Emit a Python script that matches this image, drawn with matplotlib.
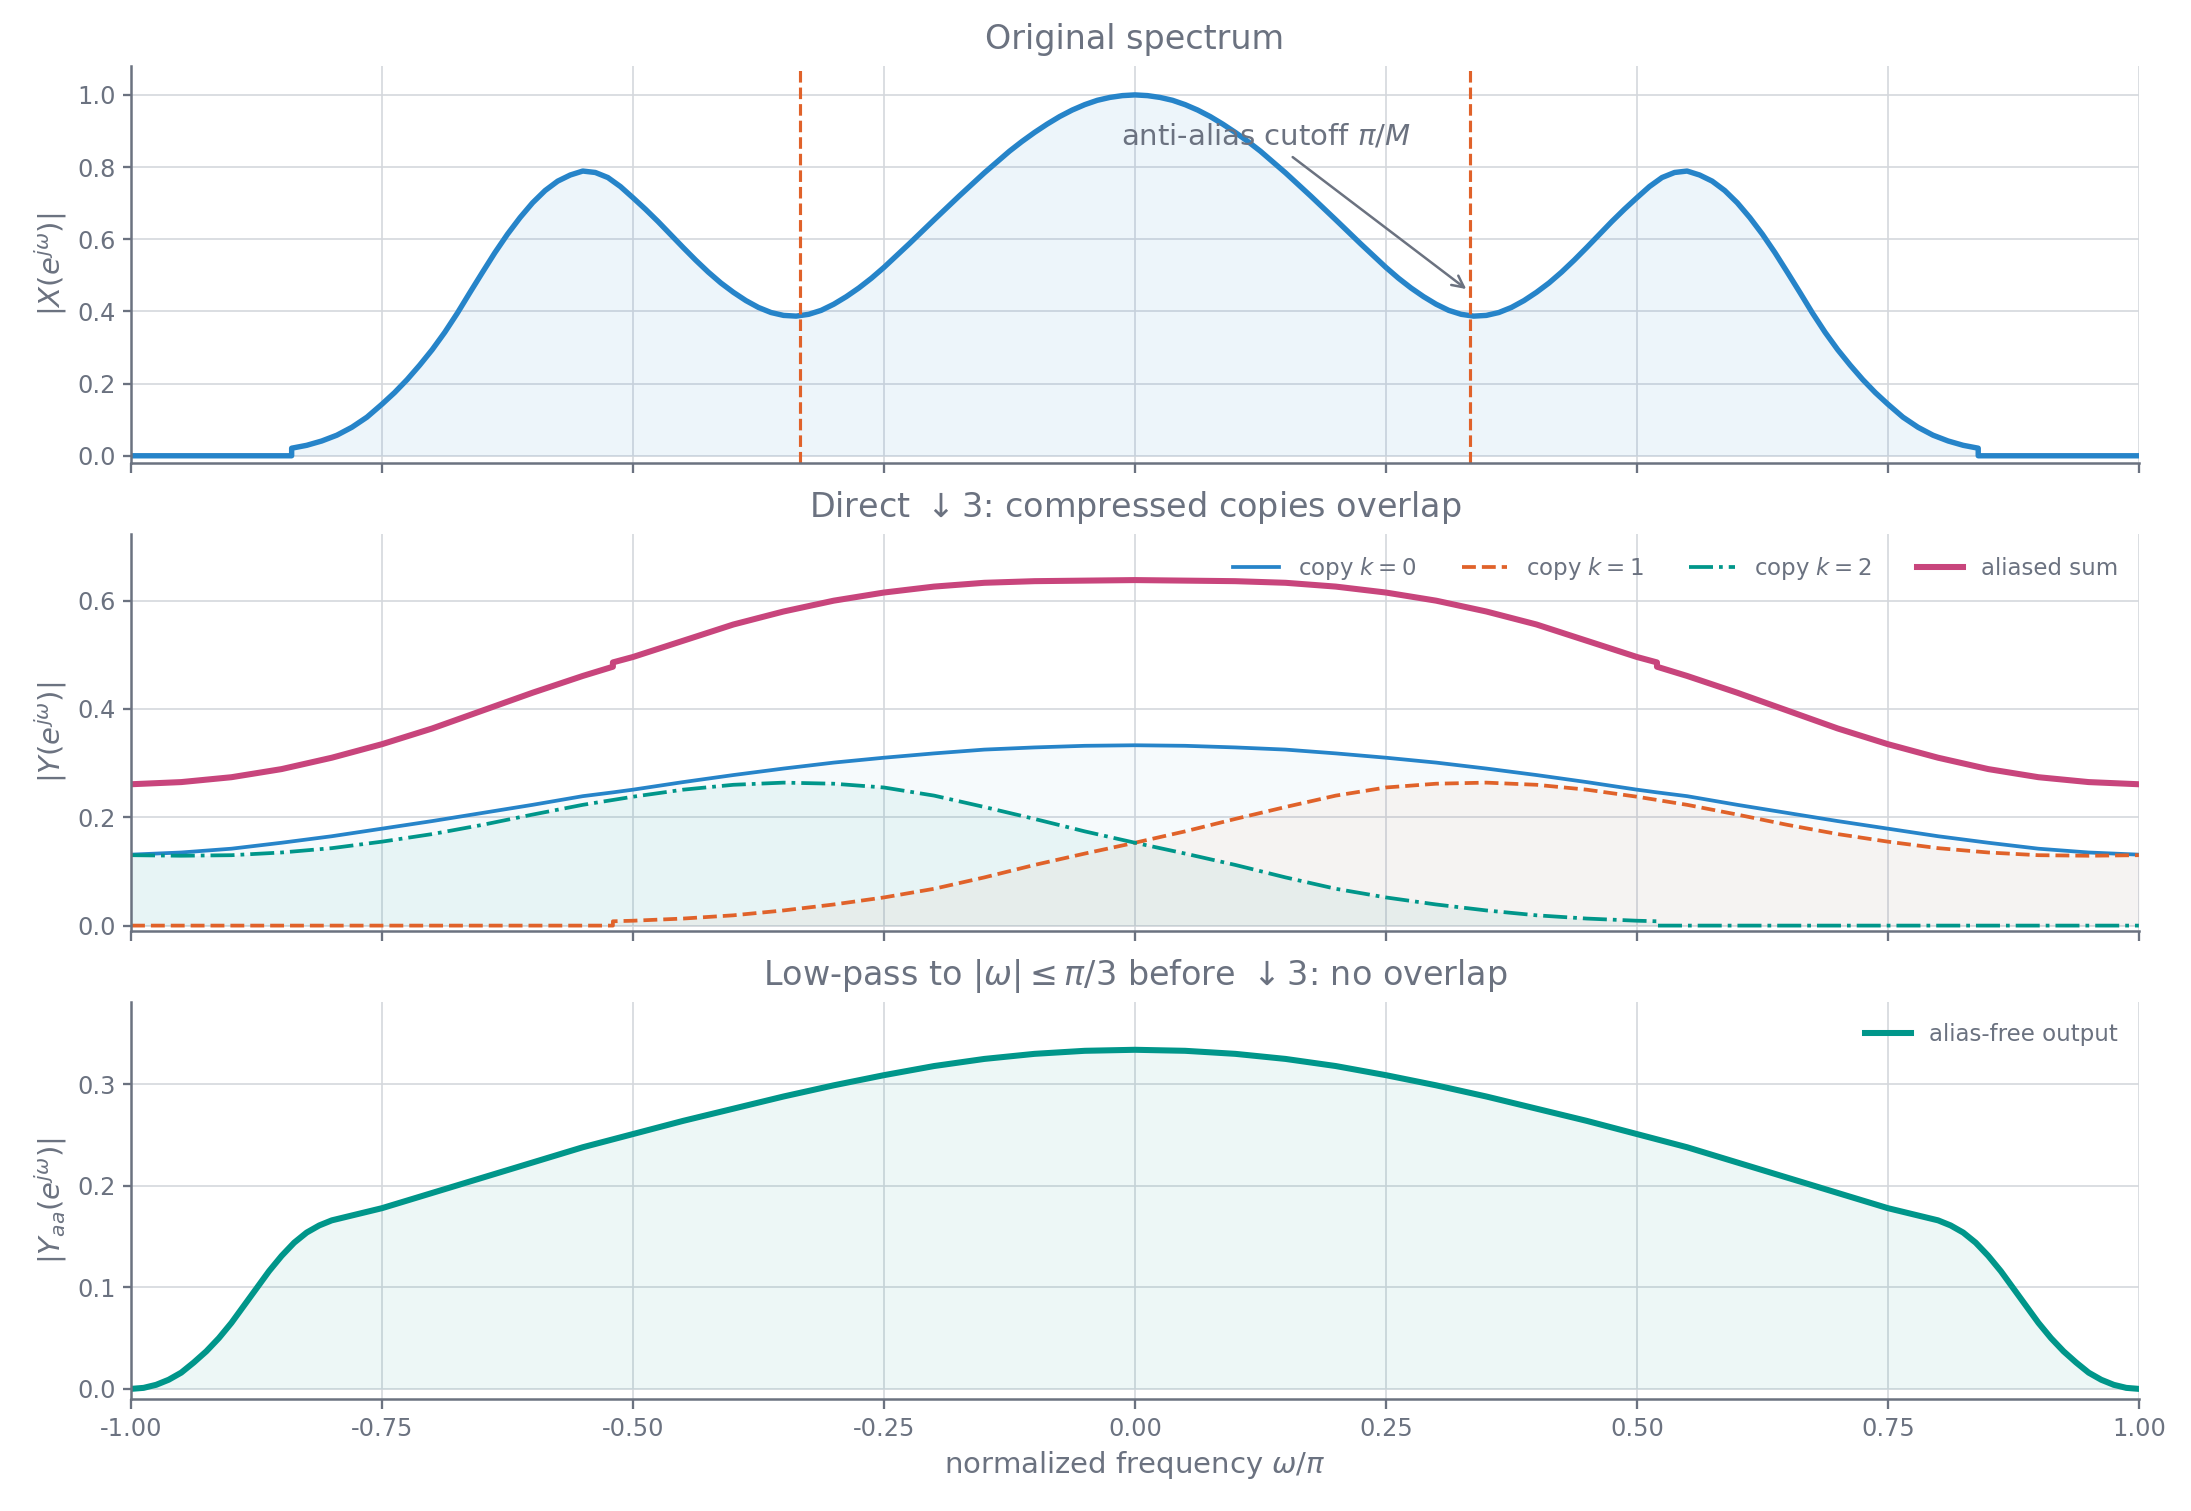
import matplotlib
matplotlib.use('Agg')
import matplotlib.pyplot as plt

# |X(e^jw)| (x in units of pi)
top_x = [-1.0, -0.84, -0.84, -0.825, -0.81, -0.795, -0.78, -0.765, -0.75,
         -0.7375, -0.725, -0.7125, -0.70, -0.6875, -0.675, -0.6625, -0.65, -0.6375, -0.625,
         -0.6125, -0.60, -0.5875, -0.575, -0.5625, -0.55, -0.5375, -0.525, -0.5125, -0.50,
         -0.4875, -0.475, -0.4625, -0.45, -0.4375, -0.425, -0.4125, -0.40, -0.3875, -0.375,
         -0.3625, -0.35, -0.3375, -0.325, -0.3125, -0.30, -0.2875, -0.275, -0.2625, -0.25,
         -0.225, -0.20, -0.175, -0.15, -0.125,
         -0.1125, -0.10, -0.0875, -0.075, -0.0625, -0.05, -0.0375, -0.025, -0.0125,
         0.0,
         0.0125, 0.025, 0.0375, 0.05, 0.0625, 0.075, 0.0875, 0.10, 0.1125,
         0.125, 0.15, 0.175, 0.20, 0.225,
         0.25, 0.2625, 0.275, 0.2875, 0.30, 0.3125, 0.325, 0.3375, 0.35, 0.3625,
         0.375, 0.3875, 0.40, 0.4125, 0.425, 0.4375, 0.45, 0.4625, 0.475, 0.4875,
         0.50, 0.5125, 0.525, 0.5375, 0.55, 0.5625, 0.575, 0.5875, 0.60, 0.6125,
         0.625, 0.6375, 0.65, 0.6625, 0.675, 0.6875, 0.70, 0.7125, 0.725, 0.7375,
         0.75, 0.765, 0.78, 0.795, 0.81, 0.825, 0.84, 0.84, 1.0]
top_mag = [0.0, 0.0, 0.021, 0.029, 0.041, 0.057, 0.079, 0.107, 0.143,
           0.175, 0.211, 0.251, 0.294, 0.342, 0.395, 0.452, 0.508, 0.563, 0.614,
           0.660, 0.701, 0.735, 0.761, 0.778, 0.789, 0.785, 0.771, 0.746, 0.715,
           0.683, 0.649, 0.613, 0.577, 0.542, 0.509, 0.479, 0.453, 0.430, 0.411,
           0.397, 0.389, 0.387, 0.392, 0.403, 0.420, 0.441, 0.465, 0.492, 0.522,
           0.587, 0.654, 0.720, 0.784, 0.844,
           0.871, 0.896, 0.919, 0.940, 0.958, 0.973, 0.985, 0.993, 0.998,
           1.0,
           0.998, 0.993, 0.985, 0.973, 0.958, 0.940, 0.919, 0.896, 0.871,
           0.844, 0.784, 0.720, 0.654, 0.587,
           0.522, 0.492, 0.465, 0.441, 0.420, 0.403, 0.392, 0.387, 0.389, 0.397,
           0.411, 0.430, 0.453, 0.479, 0.509, 0.542, 0.577, 0.613, 0.649, 0.683,
           0.715, 0.746, 0.771, 0.785, 0.789, 0.778, 0.761, 0.735, 0.701, 0.660,
           0.614, 0.563, 0.508, 0.452, 0.395, 0.342, 0.294, 0.251, 0.211, 0.175,
           0.143, 0.107, 0.079, 0.057, 0.041, 0.029, 0.021, 0.0, 0.0]
cutoffs = [-1 / 3, 1 / 3]

# middle panel: compressed copies and their sum
mid_x = [-1.00, -0.95, -0.90, -0.85, -0.80, -0.75, -0.70, -0.65, -0.60, -0.55, -0.52, -0.52,
         -0.50, -0.45, -0.40, -0.35, -0.30, -0.25, -0.20, -0.15, -0.10, -0.05,
         0.00,
         0.05, 0.10, 0.15, 0.20, 0.25, 0.30, 0.35, 0.40, 0.45, 0.50,
         0.52, 0.52, 0.55, 0.60, 0.65, 0.70, 0.75, 0.80, 0.85, 0.90, 0.95, 1.00]
copy0 = [0.131, 0.135, 0.142, 0.153, 0.165, 0.179, 0.193, 0.208, 0.223, 0.239, 0.246, 0.246,
         0.251, 0.265, 0.278, 0.290, 0.301, 0.310, 0.318, 0.325, 0.329, 0.332,
         0.333,
         0.332, 0.329, 0.325, 0.318, 0.310, 0.301, 0.290, 0.278, 0.265, 0.251,
         0.246, 0.246, 0.239, 0.223, 0.208, 0.193, 0.179, 0.165, 0.153, 0.142, 0.135, 0.131]
copy1 = [0.0, 0.0, 0.0, 0.0, 0.0, 0.0, 0.0, 0.0, 0.0, 0.0, 0.0, 0.008,
         0.009, 0.013, 0.019, 0.028, 0.039, 0.052, 0.068, 0.089, 0.112, 0.133,
         0.153,
         0.174, 0.197, 0.219, 0.240, 0.255, 0.262, 0.264, 0.260, 0.251, 0.238,
         0.232, 0.232, 0.223, 0.205, 0.186, 0.169, 0.155, 0.143, 0.135, 0.130, 0.129, 0.130]
copy2 = [0.130, 0.129, 0.130, 0.135, 0.143, 0.155, 0.169, 0.186, 0.205, 0.223, 0.232, 0.232,
         0.238, 0.251, 0.260, 0.264, 0.262, 0.255, 0.240, 0.219, 0.197, 0.174,
         0.153,
         0.133, 0.112, 0.089, 0.068, 0.052, 0.039, 0.028, 0.019, 0.013, 0.009,
         0.008, 0.0, 0.0, 0.0, 0.0, 0.0, 0.0, 0.0, 0.0, 0.0, 0.0, 0.0]
aliased = [0.261, 0.265, 0.274, 0.289, 0.310, 0.335, 0.364, 0.397, 0.430, 0.461, 0.478, 0.486,
           0.496, 0.526, 0.556, 0.580, 0.600, 0.615, 0.626, 0.633, 0.636, 0.637,
           0.638,
           0.637, 0.636, 0.633, 0.626, 0.615, 0.600, 0.580, 0.556, 0.526, 0.496,
           0.486, 0.478, 0.461, 0.430, 0.397, 0.364, 0.335, 0.310, 0.289, 0.274, 0.265, 0.261]

# bottom panel: anti-aliased output
bot_x = [-1.0, -0.9875, -0.975, -0.9625, -0.95, -0.9375, -0.925, -0.9125, -0.90, -0.8875,
         -0.875, -0.8625, -0.85, -0.8375, -0.825, -0.8125, -0.80, -0.7875, -0.775,
         -0.75, -0.70, -0.65, -0.60, -0.55, -0.50, -0.45, -0.40, -0.35, -0.30, -0.25,
         -0.20, -0.15, -0.10, -0.05,
         0.0,
         0.05, 0.10, 0.15, 0.20, 0.25, 0.30, 0.35, 0.40, 0.45, 0.50, 0.55, 0.60, 0.65,
         0.70, 0.75, 0.775, 0.7875, 0.80, 0.8125, 0.825, 0.8375, 0.85, 0.8625, 0.875,
         0.8875, 0.90, 0.9125, 0.925, 0.9375, 0.95, 0.9625, 0.975, 0.9875, 1.0]
alias_free = [0.000, 0.001, 0.004, 0.009, 0.016, 0.026, 0.037, 0.050, 0.065, 0.082,
              0.099, 0.116, 0.131, 0.144, 0.154, 0.161, 0.166, 0.169, 0.172,
              0.178, 0.193, 0.208, 0.223, 0.238, 0.251, 0.264, 0.276, 0.288, 0.299, 0.309,
              0.318, 0.325, 0.330, 0.333,
              0.334,
              0.333, 0.330, 0.325, 0.318, 0.309, 0.299, 0.288, 0.276, 0.264, 0.251, 0.238, 0.223, 0.208,
              0.193, 0.178, 0.172, 0.169, 0.166, 0.161, 0.154, 0.144, 0.131, 0.116, 0.099,
              0.082, 0.065, 0.050, 0.037, 0.026, 0.016, 0.009, 0.004, 0.001, 0.000]

xticks = [-1.0, -0.75, -0.5, -0.25, 0.0, 0.25, 0.5, 0.75, 1.0]

GRAY = '#6b7280'
BLUE = '#2684c9'
ORANGE = '#e0622a'
TEAL = '#00968a'
MAGENTA = '#c8457c'

plt.rcParams.update({
    'font.family': 'DejaVu Sans',
    'axes.unicode_minus': False,
    'text.color': GRAY,
    'axes.labelcolor': GRAY,
    'axes.edgecolor': GRAY,
    'xtick.color': GRAY,
    'ytick.color': GRAY,
    'xtick.labelsize': 11.5,
    'ytick.labelsize': 11.5,
    'axes.linewidth': 1.2,
    'xtick.major.size': 5,
    'ytick.major.size': 4,
    'xtick.major.width': 1.1,
    'ytick.major.width': 1.1,
    'lines.solid_joinstyle': 'round',
    'lines.dash_joinstyle': 'round',
})

fig, axes = plt.subplots(3, 1, figsize=(2191 / 150, 1511 / 150), dpi=150, sharex=True)
fig.subplots_adjust(left=0.0598, right=0.9762, top=0.9563, bottom=0.0741, hspace=0.179)

for ax in axes:
    ax.spines['top'].set_visible(False)
    ax.spines['right'].set_visible(False)
    ax.grid(True, color='#d5d8dd', linewidth=0.9, alpha=0.9)
    ax.set_axisbelow(True)
    ax.set_xlim(-1, 1)
    ax.set_xticks(xticks)

# top: original spectrum
ax = axes[0]
ax.fill_between(top_x, top_mag, color=BLUE, alpha=0.08, linewidth=0)
ax.plot(top_x, top_mag, color=BLUE, linewidth=2.6)
for c in cutoffs:
    ax.axvline(c, color=ORANGE, linestyle='--', linewidth=1.5)
ax.annotate('anti-alias cutoff $\\pi/M$', xy=(1 / 3, 0.455), xytext=(0.13, 0.885),
            ha='center', va='center', fontsize=14, color=GRAY,
            arrowprops=dict(arrowstyle='->', color=GRAY, lw=1.2))
ax.set_ylim(-0.02, 1.08)
ax.set_yticks([0.0, 0.2, 0.4, 0.6, 0.8, 1.0])
ax.set_ylabel('$|X(e^{j\\omega})|$', fontsize=14)
ax.set_title('Original spectrum', fontsize=16, color=GRAY, pad=8)

# middle: direct downsampling
ax = axes[1]
ax.fill_between(mid_x, copy0, color=BLUE, alpha=0.04, linewidth=0)
ax.fill_between(mid_x, copy1, color=ORANGE, alpha=0.045, linewidth=0)
ax.fill_between(mid_x, copy2, color=TEAL, alpha=0.06, linewidth=0)
ax.plot(mid_x, copy0, color=BLUE, linewidth=1.8, label='copy $k=0$')
ax.plot(mid_x, copy1, color=ORANGE, linewidth=1.8, linestyle='--', label='copy $k=1$')
ax.plot(mid_x, copy2, color=TEAL, linewidth=1.8, linestyle='-.', label='copy $k=2$')
ax.plot(mid_x, aliased, color=MAGENTA, linewidth=2.9, label='aliased sum')
ax.set_ylim(-0.01, 0.723)
ax.set_yticks([0.0, 0.2, 0.4, 0.6])
ax.set_ylabel('$|Y(e^{j\\omega})|$', fontsize=14)
ax.set_title('Direct $\\downarrow 3$: compressed copies overlap', fontsize=16, color=GRAY, pad=8)
ax.legend(loc='upper right', ncol=4, frameon=False, fontsize=11, labelcolor=GRAY)

# bottom: anti-aliased
ax = axes[2]
ax.fill_between(bot_x, alias_free, color=TEAL, alpha=0.07, linewidth=0)
ax.plot(bot_x, alias_free, color=TEAL, linewidth=2.9, label='alias-free output')
ax.set_ylim(-0.01, 0.381)
ax.set_yticks([0.0, 0.1, 0.2, 0.3])
ax.set_ylabel('$|Y_{aa}(e^{j\\omega})|$', fontsize=14)
ax.set_title('Low-pass to $|\\omega| \\leq \\pi/3$ before $\\downarrow 3$: no overlap', fontsize=16, color=GRAY, pad=8)
ax.legend(loc='upper right', frameon=False, fontsize=11, labelcolor=GRAY)
ax.set_xlabel('normalized frequency $\\omega/\\pi$', fontsize=14)

fig.savefig('out.png', dpi=150)
